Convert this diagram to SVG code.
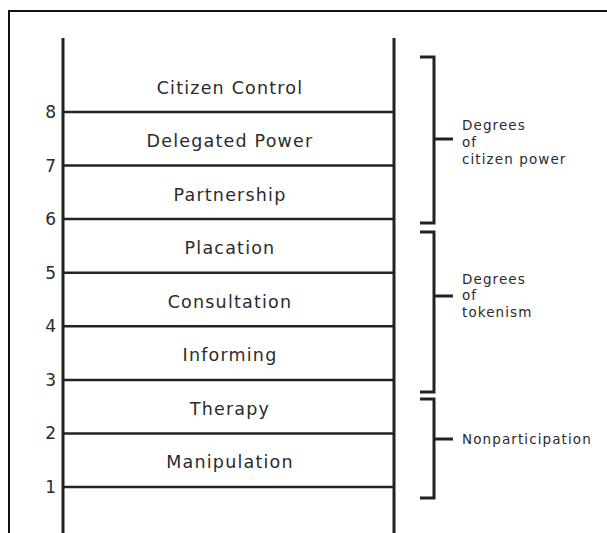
<svg xmlns="http://www.w3.org/2000/svg" width="607" height="533" viewBox="0 0 607 533">
<style>
.frame{fill:none;stroke:#111;stroke-width:2}
.rail{stroke:#222;stroke-width:3;fill:none}
.rung{stroke:#222;stroke-width:2.5;fill:none}
.br{stroke:#222;stroke-width:3;fill:none}
.lbl{font-family:"DejaVu Sans",sans-serif;font-size:17.5px;letter-spacing:1.2px;fill:#2b2b2b;text-anchor:middle}
.num{font-family:"DejaVu Sans",sans-serif;font-size:17px;fill:#2b2b2b;text-anchor:end}
.side{font-family:"DejaVu Sans",sans-serif;font-size:13.5px;letter-spacing:1.1px;fill:#2b2b2b}
</style>
<rect width="607" height="533" fill="#fff"/>
<path class="frame" d="M9,533 V11 H607"/>
<g id="connectors">
<line class="rail" x1="63" y1="38" x2="63" y2="533"/>
<line class="rail" x1="394" y1="38" x2="394" y2="533"/>
<path class="br" d="M420,57 H434 V223 H420 M434,139 H453"/>
<path class="br" d="M420,232 H434 V392 H420 M434,296 H453"/>
<path class="br" d="M420,399 H434 V498 H420 M434,439 H453"/>
</g>
<g id="rung8"><line class="rung" x1="63" y1="112" x2="394" y2="112"/><text class="num" x="56" y="118">8</text></g>
<g id="rung7"><line class="rung" x1="63" y1="165.6" x2="394" y2="165.6"/><text class="num" x="56" y="171.6">7</text></g>
<g id="rung6"><line class="rung" x1="63" y1="219.1" x2="394" y2="219.1"/><text class="num" x="56" y="225.1">6</text></g>
<g id="rung5"><line class="rung" x1="63" y1="272.7" x2="394" y2="272.7"/><text class="num" x="56" y="278.7">5</text></g>
<g id="rung4"><line class="rung" x1="63" y1="326.3" x2="394" y2="326.3"/><text class="num" x="56" y="332.3">4</text></g>
<g id="rung3"><line class="rung" x1="63" y1="379.9" x2="394" y2="379.9"/><text class="num" x="56" y="385.9">3</text></g>
<g id="rung2"><line class="rung" x1="63" y1="433.4" x2="394" y2="433.4"/><text class="num" x="56" y="439.4">2</text></g>
<g id="rung1"><line class="rung" x1="63" y1="487" x2="394" y2="487"/><text class="num" x="56" y="493">1</text></g>
<g id="citizen-control"><text class="lbl" x="230" y="94">Citizen Control</text></g>
<g id="delegated-power"><text class="lbl" x="230" y="147">Delegated Power</text></g>
<g id="partnership"><text class="lbl" x="230" y="200.5">Partnership</text></g>
<g id="placation"><text class="lbl" x="230" y="254">Placation</text></g>
<g id="consultation"><text class="lbl" x="230" y="307.5">Consultation</text></g>
<g id="informing"><text class="lbl" x="230" y="361">Informing</text></g>
<g id="therapy"><text class="lbl" x="230" y="414.5">Therapy</text></g>
<g id="manipulation"><text class="lbl" x="230" y="468">Manipulation</text></g>
<g id="citizen-power"><text class="side" x="462" y="130"><tspan x="462">Degrees</tspan><tspan x="462" dy="17">of</tspan><tspan x="462" dy="17">citizen power</tspan></text></g>
<g id="tokenism"><text class="side" x="462" y="283.5"><tspan x="462">Degrees</tspan><tspan x="462" dy="16.7">of</tspan><tspan x="462" dy="16.7">tokenism</tspan></text></g>
<g id="nonparticipation"><text class="side" x="462" y="443.5">Nonparticipation</text></g>
</svg>
